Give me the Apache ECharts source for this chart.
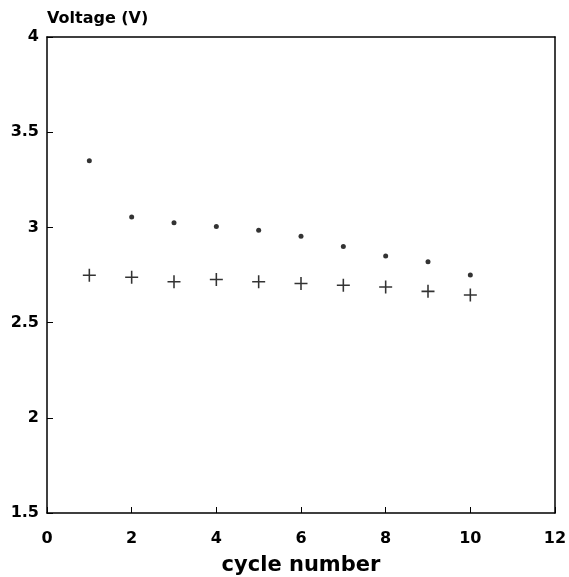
<!DOCTYPE html>
<html lang="en">
<head>
    <meta charset="UTF-8">
    <title>Voltage vs cycle number</title>
    <style>
        * { margin: 0; padding: 0; }
        html, body { width: 100%; height: 100%; background: #fff; }
        #chart { width: 569px; height: 577px; }
    </style>
    <script src="https://cdn.jsdelivr.net/npm/echarts@6/dist/echarts.min.js"></script>
</head>
<body>
<div id="chart"></div>
<script>
    // data
    var cycles = [1, 2, 3, 4, 5, 6, 7, 8, 9, 10];
    var upperVoltage = [3.35, 3.055, 3.025, 3.005, 2.985, 2.953, 2.90, 2.85, 2.82, 2.75];
    var lowerVoltage = [2.749, 2.738, 2.715, 2.726, 2.715, 2.705, 2.696, 2.687, 2.664, 2.645];

    function pairs(xs, ys) {
        var out = [];
        for (var i = 0; i < xs.length; i++) out.push([xs[i], ys[i]]);
        return out;
    }

    var font = '"DejaVu Sans", sans-serif';
    var plus = 'path://M4.4,0H5.6V4.4H10V5.6H5.6V10H4.4V5.6H0V4.4H4.4Z';

    var option = {
        animation: false,
        grid: { left: 47, right: 14, top: 37, bottom: 64, outerBoundsMode: 'none' },
        title: {
            text: 'Voltage (V)',
            left: 42, top: 6,
            textStyle: { fontFamily: font, fontSize: 16, fontWeight: 'bold', color: '#000' }
        },
        xAxis: [{
            type: 'value',
            min: 0, max: 12, interval: 2,
            name: 'cycle number',
            nameLocation: 'middle',
            nameGap: 42,
            nameTextStyle: { fontFamily: font, fontSize: 21, fontWeight: 'bold', color: '#000' },
            axisLine: { onZero: false, lineStyle: { color: '#000', width: 1.5 } },
            axisTick: { inside: true, length: 6, lineStyle: { color: '#000' } },
            axisLabel: { margin: 18, fontFamily: font, fontSize: 16, fontWeight: 'bold', color: '#000' },
            splitLine: { show: false }
        }, {
            type: 'value', position: 'top',
            min: 0, max: 12, interval: 2,
            axisLine: { onZero: false, lineStyle: { color: '#000', width: 1.5 } },
            axisTick: { show: false },
            axisLabel: { show: false },
            splitLine: { show: false }
        }],
        yAxis: [{
            type: 'value',
            min: 1.5, max: 4, interval: 0.5,
            axisLine: { onZero: false, lineStyle: { color: '#000', width: 1.5 } },
            axisTick: { inside: true, length: 6, lineStyle: { color: '#000' } },
            axisLabel: { margin: 8, fontFamily: font, fontSize: 16, fontWeight: 'bold', color: '#000' },
            splitLine: { show: false }
        }, {
            type: 'value', position: 'right',
            min: 1.5, max: 4, interval: 0.5,
            axisLine: { onZero: false, lineStyle: { color: '#000', width: 1.5 } },
            axisTick: { show: false },
            axisLabel: { show: false },
            splitLine: { show: false }
        }],
        series: [{
            name: 'upper',
            type: 'scatter',
            symbol: 'circle',
            symbolSize: 5,
            itemStyle: { color: '#000' },
            data: pairs(cycles, upperVoltage)
        }, {
            name: 'lower',
            type: 'scatter',
            symbol: plus,
            symbolSize: 13,
            itemStyle: { color: '#000' },
            data: pairs(cycles, lowerVoltage)
        }]
    };

    var myChart = echarts.init(document.getElementById('chart'));
    myChart.setOption(option);
</script>
</body>
</html>
